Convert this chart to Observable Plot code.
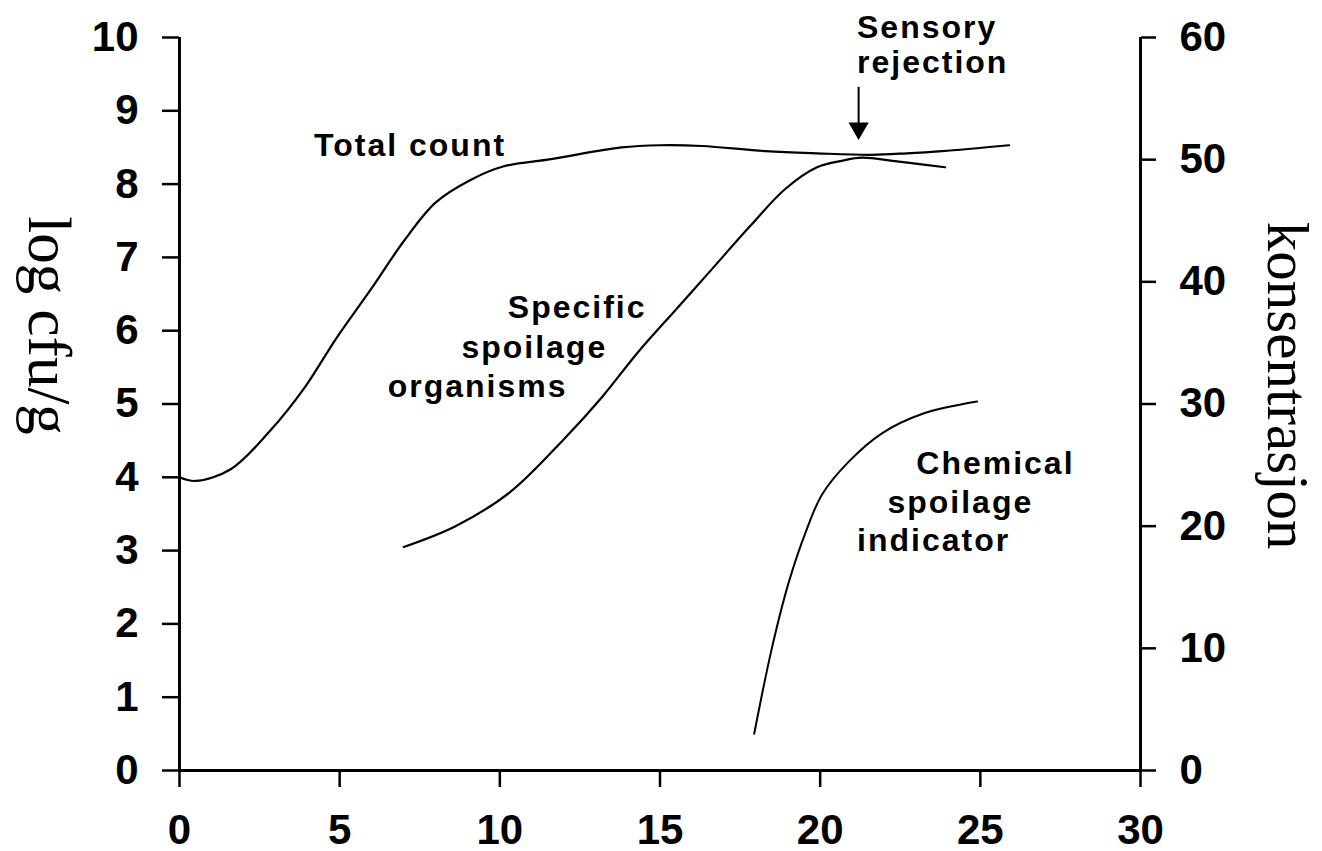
<!DOCTYPE html>
<html><head><meta charset="utf-8">
<script src="https://cdn.jsdelivr.net/npm/d3@7"></script>
<script src="https://cdn.jsdelivr.net/npm/@observablehq/plot@0.6"></script>
<style>
body{margin:0;background:#fff}
</style>
</head><body><div id="chart"></div>
<script>
// Total count (log cfu/g)
const totalDay = [0,0.5,1.6,2.8,3.9,4.9,6.0,7.0,8.0,9.1,10.1,11.6,13.8,15.0,16.3,18.3,19.9,21.6,22.7,23.8,25.9];
const totalLog = [4.0,3.95,4.11,4.62,5.22,5.90,6.58,7.22,7.75,8.06,8.24,8.34,8.50,8.53,8.52,8.45,8.42,8.40,8.42,8.45,8.53];
// Specific spoilage organisms (log cfu/g)
const ssoDay = [7.0,8.6,10.3,12.0,13.2,14.3,15.5,16.6,17.8,18.9,19.9,20.7,21.3,22.4,23.9];
const ssoLog = [3.05,3.33,3.79,4.52,5.10,5.70,6.29,6.83,7.42,7.93,8.23,8.32,8.36,8.31,8.23];
// Chemical spoilage indicator (konsentrasjon, right axis)
const chemDay = [17.94,18.5,19.03,19.56,20.06,20.9,21.93,23.2,24.9];
const chemConc = [3.0,10.1,15.5,19.6,22.6,25.3,27.6,29.2,30.2];

// Axis ticks
const xTicks = [0,5,10,15,20,25,30];
const leftTicks = [0,1,2,3,4,5,6,7,8,9,10];
const rightTicks = [0,10,20,30,40,50,60];
const rightMax = 60, leftMax = 10;

// Annotations (lines of text, anchored in data units)
const annText = ["Total count","Sensory","rejection","Specific","spoilage","organisms","Chemical","spoilage","indicator"];
const annDay  = [4.2,21.15,21.15,10.25,8.8,6.5,23.0,22.1,21.15];
const annLog  = [8.38,10.0,9.52,6.18,5.63,5.10,4.04,3.51,2.99];

// Sensory rejection arrow
const arrowDay = [21.2];
const arrowTop = [9.32];
const arrowHead = [8.76];

const total = totalDay.map((d,i)=>({day:d, v:totalLog[i]}));
const sso = ssoDay.map((d,i)=>({day:d, v:ssoLog[i]}));
const chem = chemDay.map((d,i)=>({day:d, v:chemConc[i]}));
const ann = annText.map((t,i)=>({t, day:annDay[i], v:annLog[i]}));
const toLeft = c => c * leftMax / rightMax;

const sans = "Liberation Sans, Arial, Helvetica, sans-serif";
const serif = "Liberation Serif, Times New Roman, serif";

const chart = Plot.plot({
  width: 1322, height: 851,
  marginLeft: 179, marginRight: 182, marginTop: 37, marginBottom: 81,
  style: {fontFamily: sans, background: "#fff", color: "#000", overflow: "visible"},
  x: {domain: [0, 30], axis: null},
  y: {domain: [0, 10], axis: null},
  marks: [
    Plot.axisX({ticks: xTicks, tickSize: 17, tickPadding: 27, strokeWidth: 2.5, fontSize: 42, fontWeight: "bold", label: null, tickFormat: d => String(d)}),
    Plot.axisY({anchor: "left", ticks: leftTicks, tickSize: 17, tickPadding: 24, strokeWidth: 2.5, fontSize: 42, fontWeight: "bold", label: null, tickFormat: d => String(d)}),
    Plot.axisY(rightTicks.map(toLeft), {anchor: "right", tickSize: 15, tickPadding: 24, strokeWidth: 2.5, fontSize: 42, fontWeight: "bold", label: null, tickFormat: d => String(Math.round(d * rightMax / leftMax))}),
    Plot.ruleY([0], {strokeWidth: 3}),
    Plot.ruleX([0], {strokeWidth: 3}),
    Plot.ruleX([30], {strokeWidth: 3}),
    Plot.line(total, {x: "day", y: "v", curve: "catmull-rom", strokeWidth: 2.2, stroke: "#000"}),
    Plot.line(sso, {x: "day", y: "v", curve: "catmull-rom", strokeWidth: 2.2, stroke: "#000"}),
    Plot.line(chem, {x: "day", y: d => toLeft(d.v), curve: "catmull-rom", strokeWidth: 2, stroke: "#000"}),
    Plot.ruleX(arrowDay, {x: d => d, y1: (d,i) => arrowTop[i], y2: (d,i) => arrowHead[i], strokeWidth: 2}),
    Plot.dot(arrowDay, {x: d => d, y: (d,i) => arrowHead[i], symbol: "triangle", rotate: 180, r: 7.5, fill: "#000", stroke: "none"}),
    Plot.text(ann, {x: "day", y: "v", text: "t", textAnchor: "start", lineAnchor: "bottom", fontSize: 32, fontWeight: "bold", fill: "#000"}),
    Plot.text(["log cfu/g"], {frameAnchor: "left", y: [6.07], text: d => d, rotate: 90, dx: -151, textAnchor: "middle", lineAnchor: "bottom", fontSize: 61, fontFamily: serif, fill: "#000"}),
    Plot.text(["konsentrasjon"], {frameAnchor: "right", y: [5.25], text: d => d, rotate: 90, dx: 127, textAnchor: "middle", lineAnchor: "bottom", fontSize: 59, fontFamily: serif, fill: "#000"})
  ]
});
document.getElementById("chart").appendChild(chart);
d3.select(chart).selectAll("text")
  .filter(function(){ return annText.includes(this.textContent); })
  .style("letter-spacing", "2px");
</script>
</body></html>
